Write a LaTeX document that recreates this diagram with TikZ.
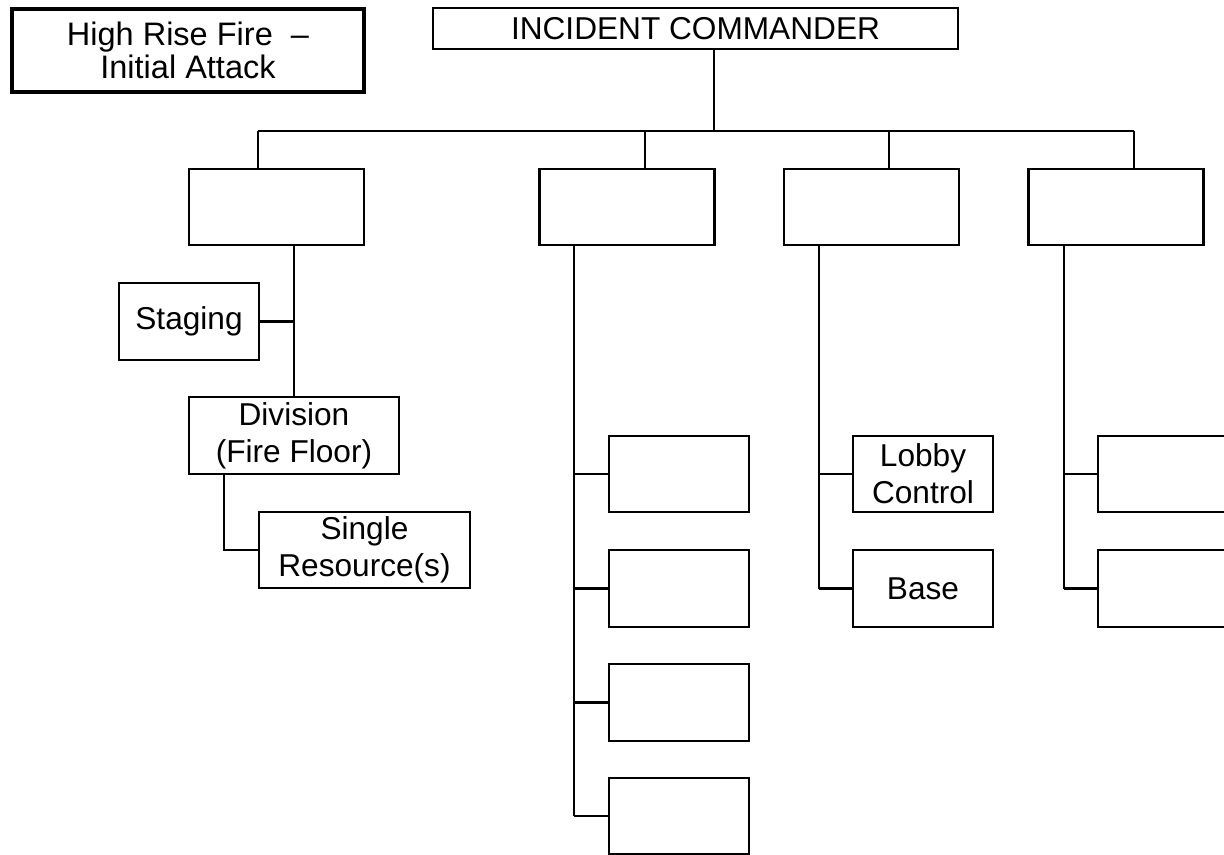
\documentclass[tikz,border=0pt]{standalone}
\usepackage{fontspec}
\setmainfont{Liberation Sans}
\tikzset{
  orgbox/.style={draw, line width=1.2pt, inner sep=0pt, align=center,
    minimum width=2.8cm, minimum height=1.53cm,
    font=\fontsize{18}{21}\selectfont},
  secbox/.style={orgbox, minimum width=3.5cm},
  titlebox/.style={draw, line width=2pt, inner sep=0pt, align=center,
    minimum width=7.04cm, minimum height=1.66cm,
    font=\fontsize{18.5}{18.5}\selectfont}
}

\begin{document}
\begin{tikzpicture}[x=0.02cm, y=-0.02cm, line width=1.2pt]
  \clip (0,0) rectangle (1224,855);
  % title and commander
  \node[titlebox] (title) at (188,50.5) {High Rise Fire~~–\\Initial Attack};
  \node[orgbox, minimum width=10.5cm, minimum height=0.82cm] (ic) at (695.5,28.5) {INCIDENT COMMANDER};

  % sections
  \node[secbox] (s1) at (276.5,207) {};
  \node[secbox] (s2) at (627,207) {};
  \node[secbox] (s3) at (871.5,207) {};
  \node[secbox] (s4) at (1116,207) {};
  \coordinate (j0) at (714,131);
  \coordinate (j1) at (258,131);
  \coordinate (j2) at (645,131);
  \coordinate (j3) at (889,131);
  \coordinate (j4) at (1134,131);
  \draw (j0 |- ic.south) -- (j0);
  \draw (j1) -- (j4);
  \foreach \j/\s in {j1/s1,j2/s2,j3/s3,j4/s4}
    \draw (\j) -- (\j |- \s.north);

  % first section
  \node[orgbox] (stg) at (189,321.5) {Staging};
  \node[orgbox, minimum width=4.2cm] (div) at (294,435.5) {Division\\(Fire Floor)};
  \node[orgbox, minimum width=4.22cm] (res) at (364.5,550) {Single\\Resource(s)};
  \draw (div.north |- s1.south) -- (div.north);
  \draw (stg.east) -- (stg.east -| div.north);
  \coordinate (k1) at (224,0);
  \draw (k1 |- div.south) |- (res.west);

  % second section
  \coordinate (sp2) at (574,0);
  \foreach \n/\yy in {u1/474,u2/588.5,u3/702.5,u4/816}
    \node[orgbox] (\n) at (679,\yy) {};
  \draw (sp2 |- s2.south) -- (sp2 |- u4.west);
  \foreach \n in {u1,u2,u3,u4}
    \draw (\n.west) -- (\n.west -| sp2);

  % third section
  \coordinate (sp3) at (819,0);
  \node[orgbox] (lobby) at (923,474) {Lobby\\Control};
  \node[orgbox] (base) at (923,588.5) {Base};
  \draw (sp3 |- s3.south) -- (sp3 |- base.west);
  \foreach \n in {lobby,base}
    \draw (\n.west) -- (\n.west -| sp3);

  % fourth section
  \coordinate (sp4) at (1064,0);
  \node[orgbox] (w1) at (1168,474) {};
  \node[orgbox] (w2) at (1168,588.5) {};
  \draw (sp4 |- s4.south) -- (sp4 |- w2.west);
  \foreach \n in {w1,w2}
    \draw (\n.west) -- (\n.west -| sp4);
\end{tikzpicture}
\end{document}
